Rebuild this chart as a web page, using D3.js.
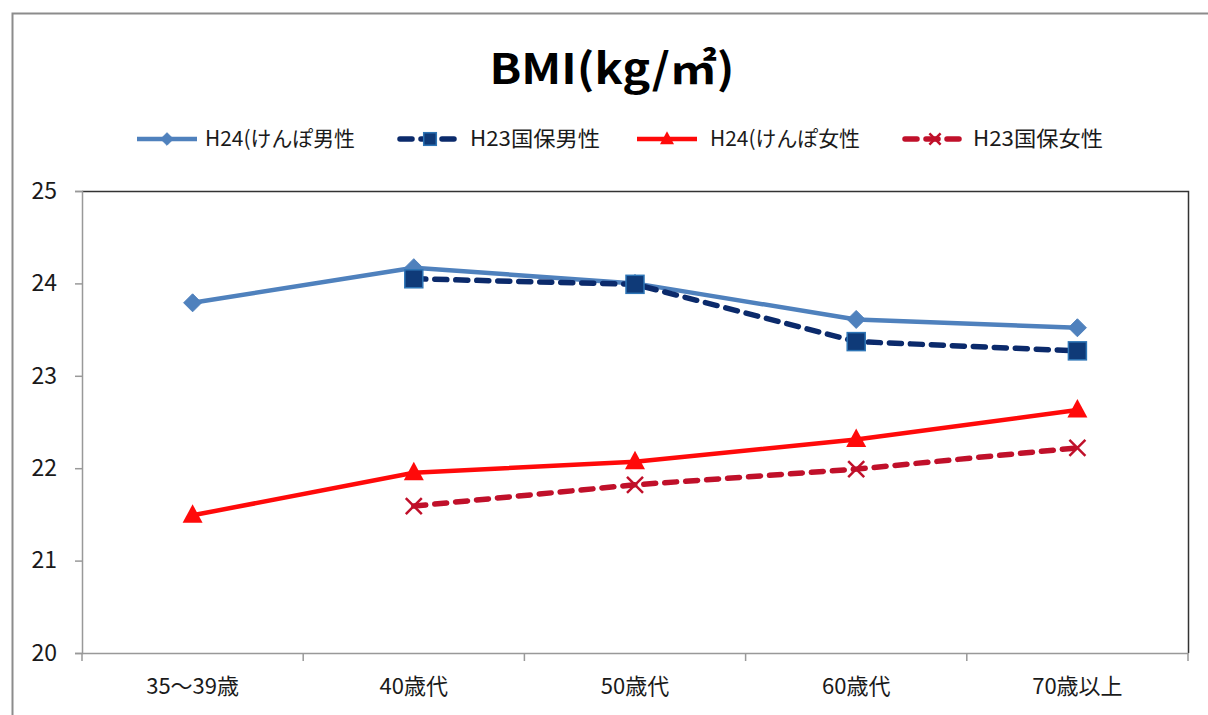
<!DOCTYPE html>
<html>
<head>
<meta charset="utf-8">
<script src="https://cdn.jsdelivr.net/npm/d3@7/dist/d3.min.js"></script>
<style>
  html, body { margin: 0; padding: 0; background: #fff; }
  svg { display: block; }
  text { font-family: "Noto Sans CJK JP", "Noto Sans", sans-serif; }
</style>
</head>
<body>
<svg id="chart" width="1208" height="715"></svg>
<script>
// Age groups on the x axis
const categories = ["35～39歳", "40歳代", "50歳代", "60歳代", "70歳以上"];

// BMI by age group (null = no data for that group)
const kenpoMale24   = [23.79, 24.17, 24.00, 23.61, 23.52];
const kokuhoMale23  = [null, 24.05, 23.99, 23.37, 23.27];
const kenpoFemale24 = [21.49, 21.95, 22.07, 22.31, 22.63];
const kokuhoFemale23 = [null, 21.59, 21.82, 21.99, 22.22];

const seriesNames = ["H24(けんぽ男性", "H23国保男性", "H24(けんぽ女性", "H23国保女性"];
const yTicks = [20, 21, 22, 23, 24, 25];

const series = [
  { name: seriesNames[0], values: kenpoMale24, color: "#4F81BD", dash: null, marker: "diamond" },
  { name: seriesNames[1], values: kokuhoMale23, color: "#0B2A6B", dash: "12,9", marker: "square" },
  { name: seriesNames[2], values: kenpoFemale24, color: "#FF0A0A", dash: null, marker: "triangle" },
  { name: seriesNames[3], values: kokuhoFemale23, color: "#C0102A", dash: "12,9", marker: "cross" }
];

const svg = d3.select("#chart");

// outer frame
svg.append("path")
  .attr("d", "M12.5,715 L12.5,13.5 L1208,13.5")
  .attr("fill", "none").attr("stroke", "#8c8c8c").attr("stroke-width", 2);

const plot = { left: 82, right: 1188, top: 191, bottom: 653 };

const x = d3.scaleBand().domain(categories).range([plot.left, plot.right]).padding(0);
const y = d3.scaleLinear().domain([20, 25]).range([plot.bottom, plot.top]);

// title
svg.append("text")
  .attr("x", 612).attr("y", 84)
  .attr("text-anchor", "middle")
  .attr("font-size", 42).attr("font-weight", "bold")
  .attr("fill", "#000")
  .attr("textLength", 245).attr("lengthAdjust", "spacingAndGlyphs")
  .text("BMI(kg/㎡)");

// plot frame (top and right edges)
svg.append("path")
  .attr("d", `M${plot.left},${plot.top + 0.5} L${plot.right + 0.5},${plot.top + 0.5} L${plot.right + 0.5},${plot.bottom}`)
  .attr("fill", "none").attr("stroke", "#333").attr("stroke-width", 1.5);

// y axis
const yAxis = svg.append("g")
  .attr("transform", `translate(${plot.left},0)`)
  .call(d3.axisLeft(y).tickValues(yTicks).tickSize(7).tickPadding(18).tickFormat(d3.format("d")));
yAxis.select(".domain").attr("stroke", "#999").attr("stroke-width", 1.5);
yAxis.selectAll(".tick line").attr("stroke", "#999").attr("stroke-width", 1.5);
yAxis.selectAll(".tick text")
  .attr("font-size", 23).attr("fill", "#1a1a1a")
  .attr("font-family", "'Liberation Sans Narrow', 'Noto Sans', sans-serif");

// x axis with ticks between categories
const xAxis = svg.append("g")
  .attr("transform", `translate(0,${plot.bottom})`)
  .call(d3.axisBottom(x).tickSize(0).tickPadding(25));
xAxis.select(".domain").attr("stroke", "#999").attr("stroke-width", 1.5);
xAxis.selectAll(".tick text").attr("font-size", 22).attr("fill", "#1a1a1a");
const bounds = categories.map(c => x(c)).concat([x.range()[1]]);
xAxis.selectAll(".sep").data(bounds).join("line")
  .attr("class", "sep")
  .attr("x1", d => d).attr("x2", d => d)
  .attr("y1", 0).attr("y2", 8)
  .attr("stroke", "#999").attr("stroke-width", 1.5);

const cx = c => x(c) + x.bandwidth() / 2;

function drawMarker(g, type, color, px, py, s) {
  if (type === "diamond") {
    g.append("path")
      .attr("d", `M${px},${py - s} L${px + s},${py} L${px},${py + s} L${px - s},${py} Z`)
      .attr("fill", color).attr("stroke", color).attr("stroke-width", 1);
  } else if (type === "square") {
    g.append("rect")
      .attr("x", px - s).attr("y", py - s).attr("width", 2 * s).attr("height", 2 * s)
      .attr("fill", "#0F3A78").attr("stroke", "#2E75B6").attr("stroke-width", 1.5);
  } else if (type === "triangle") {
    g.append("path")
      .attr("d", `M${px},${py - s * 1.1} L${px + s},${py + s * 0.75} L${px - s},${py + s * 0.75} Z`)
      .attr("fill", color);
  } else if (type === "cross") {
    g.append("path")
      .attr("d", `M${px - s},${py - s} L${px + s},${py + s} M${px - s},${py + s} L${px + s},${py - s}`)
      .attr("stroke", color).attr("stroke-width", 2.5).attr("fill", "none");
  }
}

const markerSize = { diamond: 9, square: 9, triangle: 10, cross: 8 };

const line = d3.line()
  .defined(d => d.v !== null)
  .x(d => cx(d.c))
  .y(d => y(d.v));

series.forEach(s => {
  const pts = categories.map((c, i) => ({ c, v: s.values[i] }));
  const g = svg.append("g");
  g.append("path")
    .datum(pts.filter(d => d.v !== null))
    .attr("d", line)
    .attr("fill", "none")
    .attr("stroke", s.color)
    .attr("stroke-width", s.dash ? 5.5 : 4.5)
    .attr("stroke-linecap", s.dash ? "round" : "butt")
    .attr("stroke-linejoin", "round")
    .attr("stroke-dasharray", s.dash);
  pts.filter(d => d.v !== null).forEach(d => {
    drawMarker(g, s.marker, s.color, cx(d.c), y(d.v), markerSize[s.marker]);
  });
});

// legend
const legendItems = [
  { lx: 137, tx: 205 },
  { lx: 400, tx: 470 },
  { lx: 637, tx: 710 },
  { lx: 905, tx: 973 }
];
const ly = 139;
series.forEach((s, i) => {
  const it = legendItems[i];
  const g = svg.append("g");
  g.append("line")
    .attr("x1", it.lx).attr("x2", it.lx + 60)
    .attr("y1", ly).attr("y2", ly)
    .attr("stroke", s.color).attr("stroke-width", s.dash ? 5.5 : 4.5)
    .attr("stroke-dasharray", s.dash ? "12,9" : null)
    .attr("stroke-linecap", s.dash ? "round" : "butt");
  drawMarker(g, s.marker, s.color, it.lx + 30, ly, markerSize[s.marker] * 0.7);
  g.append("text")
    .attr("x", it.tx).attr("y", ly + 7)
    .attr("font-size", 21).attr("fill", "#1a1a1a")
    .attr("textLength", i % 2 === 0 ? 150 : 130)
    .attr("lengthAdjust", "spacingAndGlyphs")
    .text(s.name);
});
</script>
</body>
</html>
